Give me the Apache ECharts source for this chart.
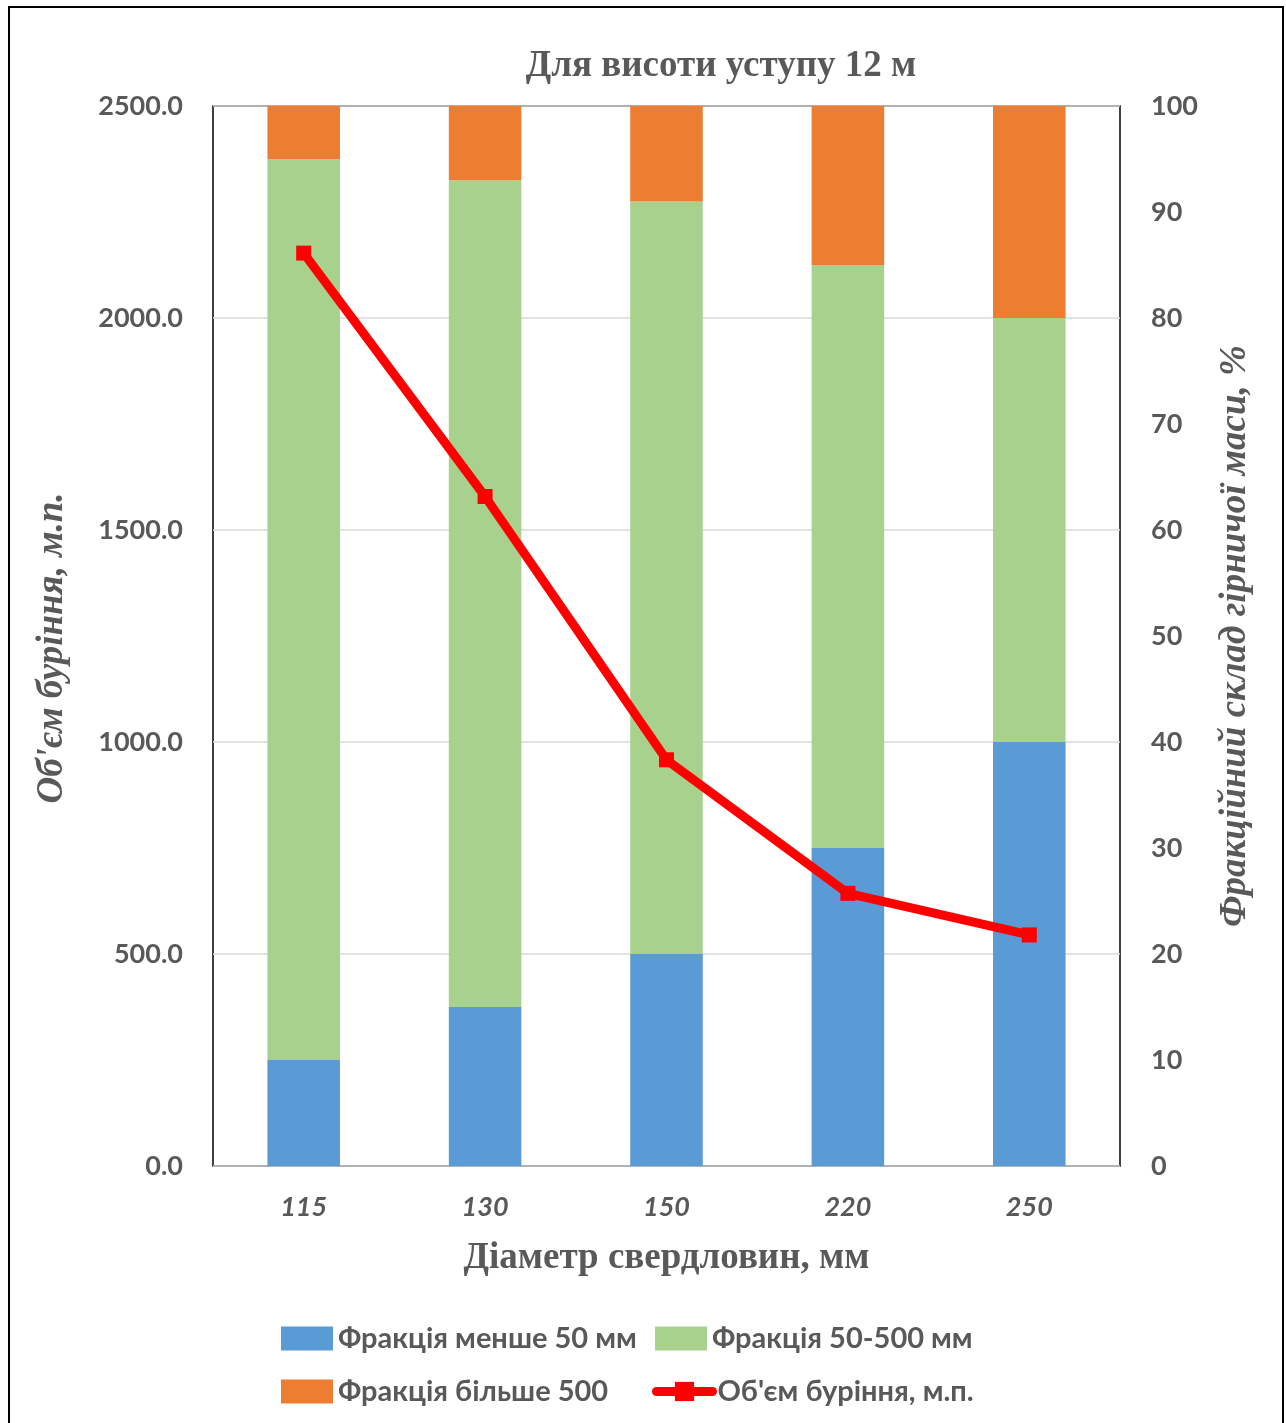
<!DOCTYPE html>
<html>
<head>
<meta charset="utf-8">
<style>
  html, body { margin: 0; padding: 0; background: #fff; overflow: hidden; }
  #chart { width: 1286px; height: 1423px; }
</style>
<script src="https://cdn.jsdelivr.net/npm/echarts@6/dist/echarts.min.js"></script>
</head>
<body>
<div id="chart"></div>
<script>
// Hole diameters, mm
const diameters = ['115', '130', '150', '220', '250'];
// Fragment-size composition of the blasted rock, %
const fineShare = [10, 15, 20, 30, 40];      // менше 50 мм
const mediumShare = [85, 78, 71, 55, 40];    // 50-500 мм
const coarseShare = [5, 7, 9, 15, 20];       // більше 500
// Drilling volume, running metres
const drillVolume = [2153, 1579, 958, 643, 545];
// Axis ticks
const leftTicks = { min: 0, max: 2500, interval: 500 };
const rightTicks = { min: 0, max: 100, interval: 10 };

const GRAY = '#595959';
const SANS = 'Lato, "Open Sans", sans-serif';
const SERIF = '"Liberation Serif", "DejaVu Serif", serif';

const chart = echarts.init(document.getElementById('chart'), null, { renderer: 'canvas' });

const legendText = { color: GRAY, fontFamily: SANS, fontWeight: 'bold', fontSize: 29 };
function legendAt(name, left, top, extra) {
  return Object.assign({
    data: [name], left: left, top: top, orient: 'horizontal',
    itemWidth: 52, itemHeight: 24, itemGap: 0, padding: 0, icon: 'rect',
    textStyle: legendText, selectedMode: false
  }, extra || {});
}

chart.setOption({
  backgroundColor: '#fff',
  animation: false,
  title: {
    text: 'Для висоти уступу 12 м',
    left: 716, top: 43, textAlign: 'center',
    textStyle: { color: GRAY, fontFamily: SERIF, fontWeight: 'bold', fontSize: 37 }
  },
  graphic: [{
    type: 'rect', silent: true, z: 100,
    shape: { x: 9, y: 7, width: 1274, height: 1460 },
    style: { fill: 'none', stroke: '#000', lineWidth: 2 }
  }],
  legend: [
    legendAt('Фракція менше 50 мм', 281, 1324),
    legendAt('Фракція 50-500 мм', 655, 1324),
    legendAt('Фракція більше 500', 281, 1377),
    legendAt('Об\'єм буріння, м.п.', 652, 1377, { icon: null, itemWidth: 56, lineStyle: { width: 9 } })
  ],
  grid: {
    left: 213, top: 106, right: 166, bottom: 257,
    show: true, borderColor: '#000', borderWidth: 1.5, backgroundColor: 'transparent'
  },
  xAxis: {
    type: 'category', data: diameters,
    axisLine: { show: false }, axisTick: { show: false },
    axisLabel: { color: GRAY, fontFamily: SANS, fontWeight: 'bold', fontStyle: 'italic', fontSize: 27, margin: 28 },
    name: 'Діаметр свердловин, мм', nameLocation: 'middle', nameGap: 74,
    nameTextStyle: { color: GRAY, fontFamily: SERIF, fontWeight: 'bold', fontSize: 37 }
  },
  yAxis: [{
    type: 'value', position: 'left',
    min: leftTicks.min, max: leftTicks.max, interval: leftTicks.interval,
    axisLine: { show: false }, axisTick: { show: false },
    splitLine: { lineStyle: { color: '#d9d9d9', width: 1.5 } },
    axisLabel: {
      color: GRAY, fontFamily: SANS, fontWeight: 'bold', fontSize: 27, margin: 30,
      formatter: v => v.toFixed(1)
    },
    name: 'Об\'єм буріння, м.п.', nameLocation: 'middle', nameRotate: 90, nameGap: 142,
    nameTextStyle: {
      color: GRAY, fontFamily: SERIF, fontWeight: 'bold', fontStyle: 'italic', fontSize: 37,
      padding: [0, 24, 0, 0]
    }
  }, {
    type: 'value', position: 'right',
    min: rightTicks.min, max: rightTicks.max, interval: rightTicks.interval,
    axisLine: { show: false }, axisTick: { show: false },
    splitLine: { show: false },
    axisLabel: { color: GRAY, fontFamily: SANS, fontWeight: 'bold', fontSize: 27, margin: 31 },
    name: 'Фракційний склад гірничої маси, %', nameLocation: 'middle', nameRotate: 90, nameGap: 97,
    nameTextStyle: { color: GRAY, fontFamily: SERIF, fontWeight: 'bold', fontStyle: 'italic', fontSize: 37 }
  }],
  series: [{
    name: 'Фракція менше 50 мм', type: 'bar', stack: 'share', yAxisIndex: 1,
    barWidth: '40%', data: fineShare, itemStyle: { color: '#5b9bd5' }
  }, {
    name: 'Фракція 50-500 мм', type: 'bar', stack: 'share', yAxisIndex: 1,
    barWidth: '40%', data: mediumShare, itemStyle: { color: '#a9d18e' }
  }, {
    name: 'Фракція більше 500', type: 'bar', stack: 'share', yAxisIndex: 1,
    barWidth: '40%', data: coarseShare, itemStyle: { color: '#ed7d31' }
  }, {
    name: 'Об\'єм буріння, м.п.', type: 'line', yAxisIndex: 0, z: 5,
    data: drillVolume,
    symbol: 'rect', symbolSize: 15, showSymbol: true,
    lineStyle: { color: '#ff0000', width: 9, cap: 'round', join: 'round' },
    itemStyle: { color: '#ff0000', borderWidth: 0 }
  }]
});
</script>
</body>
</html>
